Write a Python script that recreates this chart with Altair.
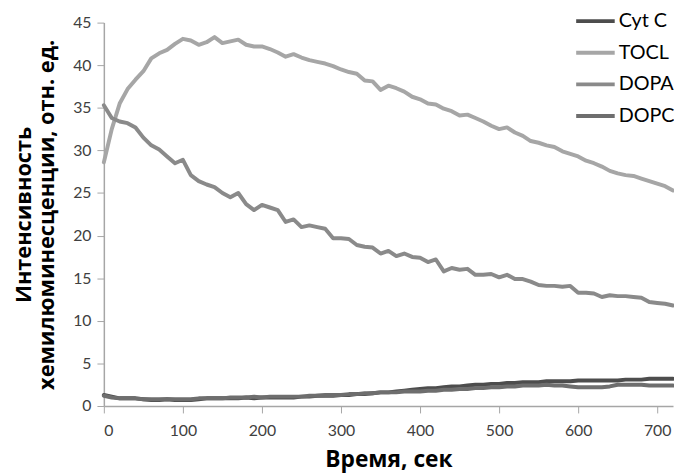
import altair as alt
import pandas as pd

time = list(range(0, 721, 10))

series_names = ["Cyt C", "TOCL", "DOPA", "DOPC"]
series_colors = ["#4d4d4d", "#a6a6a6", "#8a8a8a", "#6e6e6e"]

cyt_c = [1.3, 1.1, 0.9, 0.9, 0.9, 0.8, 0.7, 0.7, 0.8, 0.7, 0.7, 0.7, 0.8, 0.9, 0.9, 0.9, 0.9, 0.9, 1.0, 0.9,
         1.0, 1.0, 1.0, 1.0, 1.0, 1.1, 1.1, 1.2, 1.2, 1.2, 1.3, 1.3, 1.4, 1.4, 1.5, 1.6, 1.6, 1.7, 1.8, 1.9,
         2.0, 2.1, 2.1, 2.2, 2.3, 2.3, 2.4, 2.5, 2.5, 2.6, 2.6, 2.7, 2.7, 2.8, 2.8, 2.8, 2.9, 2.9, 2.9, 2.9,
         3.0, 3.0, 3.0, 3.0, 3.0, 3.0, 3.1, 3.1, 3.1, 3.2, 3.2, 3.2, 3.2]

tocl = [28.6, 32.5, 35.5, 37.2, 38.3, 39.3, 40.8, 41.4, 41.8, 42.5, 43.1, 42.9, 42.4, 42.7, 43.3, 42.6, 42.8,
        43.0, 42.4, 42.2, 42.2, 41.9, 41.5, 41.0, 41.3, 40.9, 40.6, 40.4, 40.2, 39.9, 39.5, 39.2, 39.0, 38.2,
        38.1, 37.1, 37.6, 37.3, 36.9, 36.3, 36.0, 35.5, 35.4, 34.9, 34.6, 34.1, 34.2, 33.8, 33.4, 32.9, 32.5,
        32.7, 32.1, 31.7, 31.1, 30.9, 30.6, 30.4, 29.9, 29.6, 29.3, 28.8, 28.5, 28.1, 27.6, 27.3, 27.1, 27.0,
        26.7, 26.4, 26.1, 25.8, 25.3]

dopa = [35.3, 33.8, 33.4, 33.2, 32.7, 31.5, 30.6, 30.1, 29.3, 28.5, 28.9, 27.1, 26.4, 26.0, 25.7, 25.0, 24.5,
        25.0, 23.7, 23.0, 23.6, 23.3, 23.0, 21.6, 21.9, 21.0, 21.2, 21.0, 20.8, 19.7, 19.7, 19.6, 18.9, 18.7,
        18.6, 17.9, 18.2, 17.6, 17.9, 17.5, 17.4, 16.9, 17.2, 15.8, 16.2, 16.0, 16.1, 15.4, 15.4, 15.5, 15.1,
        15.4, 14.9, 14.9, 14.6, 14.2, 14.1, 14.1, 14.0, 14.1, 13.3, 13.3, 13.2, 12.8, 13.0, 12.9, 12.9, 12.8,
        12.7, 12.2, 12.1, 12.0, 11.8]

dopc = [1.2, 1.0, 0.9, 0.9, 0.9, 0.8, 0.8, 0.8, 0.8, 0.8, 0.8, 0.8, 0.9, 0.9, 0.9, 0.9, 1.0, 1.0, 1.0, 1.1,
        1.0, 1.1, 1.1, 1.1, 1.1, 1.1, 1.2, 1.2, 1.3, 1.3, 1.3, 1.4, 1.4, 1.5, 1.5, 1.6, 1.6, 1.6, 1.7, 1.7,
        1.7, 1.8, 1.8, 1.9, 1.9, 2.0, 2.0, 2.1, 2.1, 2.2, 2.2, 2.3, 2.3, 2.4, 2.4, 2.4, 2.5, 2.4, 2.4, 2.3,
        2.2, 2.2, 2.2, 2.2, 2.3, 2.5, 2.5, 2.5, 2.5, 2.4, 2.4, 2.4, 2.4]

x_ticks = [0, 100, 200, 300, 400, 500, 600, 700]
y_ticks = [0, 5, 10, 15, 20, 25, 30, 35, 40, 45]

rows = []
for name, vals in zip(series_names, [cyt_c, tocl, dopa, dopc]):
    for t, v in zip(time, vals):
        rows.append({"t": t, "value": v, "series": name, "order": series_names.index(name)})
df = pd.DataFrame(rows)

FONT = "Lato"
TITLE_FONT = "Open Sans"

chart = alt.Chart(df).mark_line(strokeWidth=4, strokeJoin="round", strokeCap="round").encode(
    x=alt.X("t:Q", scale=alt.Scale(domain=[0, 720], nice=False, zero=False),
            axis=alt.Axis(values=x_ticks, title="Время, сек", grid=False,
                          titleFontSize=23, titleFontWeight="bold", titleColor="#000000",
                          titlePadding=10, labelPadding=10, labelFontSize=16, labelColor="#404040",
                          tickSize=7, tickColor="#a6a6a6", domainColor="#a6a6a6", domainWidth=1.5,
                          labelFont=FONT, titleFont=TITLE_FONT)),
    y=alt.Y("value:Q", scale=alt.Scale(domain=[0, 45], nice=False),
            axis=alt.Axis(values=y_ticks, title=["Интенсивность", "хемилюминесценции, отн. ед."],
                          grid=False, titleFontSize=22, titleFontWeight="bold", titleColor="#000000",
                          titleLineHeight=24, titlePadding=14, labelPadding=6, labelFontSize=16,
                          labelColor="#404040",
                          tickSize=7, tickColor="#a6a6a6", domainColor="#a6a6a6", domainWidth=1.5,
                          labelFont=FONT, titleFont=TITLE_FONT)),
    color=alt.Color("series:N", scale=alt.Scale(domain=series_names, range=series_colors),
                    sort=series_names,
                    legend=alt.Legend(title=None, orient="none", legendX=476, legendY=-23,
                                      symbolType="stroke", symbolSize=1521, symbolStrokeWidth=4,
                                      labelFontSize=20, labelFont=FONT, labelColor="#000000",
                                      labelOffset=2, rowPadding=-11)),
    detail="series:N",
    order="order:Q",
).properties(
    width=576, height=388,
    autosize=alt.AutoSizeParams(type="none"),
    padding={"left": 97, "top": 12, "right": 1, "bottom": 66},
).configure_view(stroke=None)

chart.save("out.html", embed_options={"renderer": "svg", "actions": False})
